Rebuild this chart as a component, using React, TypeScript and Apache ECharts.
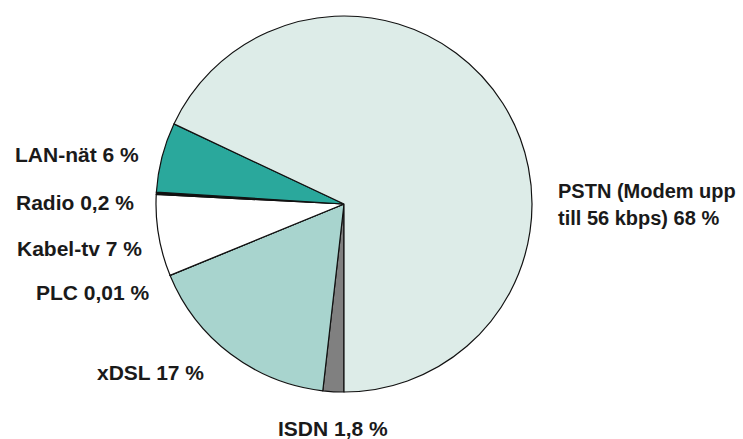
import React, { useEffect, useRef } from "react";
import * as echarts from "echarts";

const categories = ["ISDN", "xDSL", "PLC", "Kabel-tv", "Radio", "LAN-nät", "PSTN"];
const values = [1.8, 17, 0.01, 7, 0.2, 6, 68];
const labelTexts = [
  "ISDN 1,8 %",
  "xDSL 17 %",
  "PLC 0,01 %",
  "Kabel-tv 7 %",
  "Radio 0,2 %",
  "LAN-nät 6 %",
  "PSTN (Modem upp\ntill 56 kbps) 68 %",
];
const colors = ["#808080", "#a8d4ce", "#a8d4ce", "#ffffff", "#111111", "#2aa89c", "#ddece8"];
const labelSizes = [21, 21, 21, 21, 21, 21, 20];
// label anchor positions (left x, middle y) in pixels
const labelPos: [number, number][] = [
  [278, 428],
  [97, 372],
  [36, 292],
  [17, 248],
  [16, 202],
  [15, 154],
  [558, 204],
];

export default function App() {
  const ref = useRef<HTMLDivElement>(null);
  useEffect(() => {
    if (!ref.current) return;
    const chart = echarts.init(ref.current, null, { renderer: "svg" });
    chart.setOption({
      animation: false,
      backgroundColor: "#ffffff",
      series: [
        {
          type: "pie",
          center: [344, 204],
          radius: 188,
          startAngle: 270,
          clockwise: true,
          avoidLabelOverlap: false,
          itemStyle: { borderColor: "#111111", borderWidth: 1.2 },
          label: {
            show: true,
            position: "outside",
            fontFamily: "Liberation Sans, Arial, sans-serif",
            fontWeight: "bold",
            fontSize: 21,
            lineHeight: 27,
            color: "#1a1a1a",
            formatter: (p: any) => labelTexts[p.dataIndex],
          },
          labelLine: { show: false },
          labelLayout: (p: any) => ({
            x: labelPos[p.dataIndex][0],
            y: labelPos[p.dataIndex][1],
            align: "left",
            verticalAlign: "middle",
          }),
          emphasis: { disabled: true },
          data: categories.map((c, i) => ({
            name: c,
            value: values[i],
            itemStyle: { color: colors[i] },
            label: { fontSize: labelSizes[i] },
          })),
        },
      ],
    });
    return () => chart.dispose();
  }, []);
  return (
    <div
      ref={ref}
      style={{ position: "absolute", left: 0, top: 0, width: 743, height: 439 }}
    />
  );
}
